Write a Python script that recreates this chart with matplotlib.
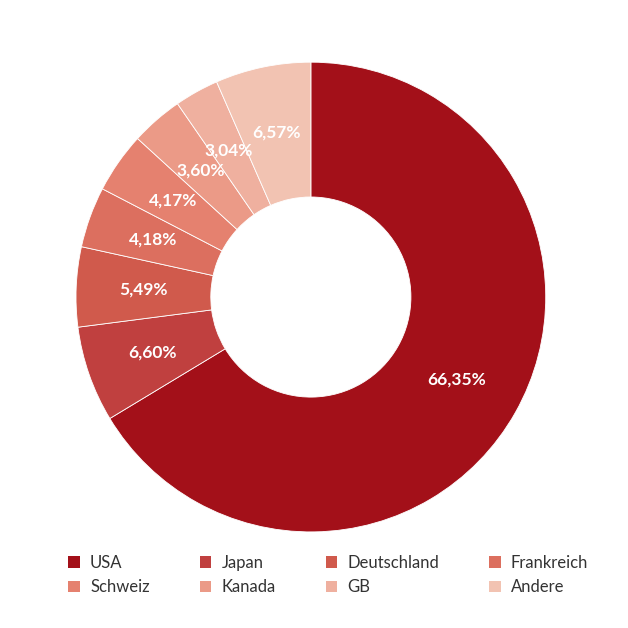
import matplotlib.pyplot as plt
from matplotlib.patches import Patch

countries = ["USA", "Japan", "Deutschland", "Frankreich", "Schweiz", "Kanada", "GB", "Andere"]
shares = [66.35, 6.60, 5.49, 4.18, 4.17, 3.60, 3.04, 6.57]
colors = ["#a31019", "#c0403f", "#d05a4c", "#dc6f5f", "#e5816f", "#eb9a87", "#efb09f", "#f2c3b2"]

plt.rcParams['font.family'] = ['Lato', 'DejaVu Sans']

fig = plt.figure(figsize=(6.28, 6.28), dpi=100)
ax = fig.add_axes([0.121, 0.153, 0.748, 0.748])

wedges, _ = ax.pie(shares, colors=colors, startangle=90, counterclock=False,
                   wedgeprops=dict(width=0.574, edgecolor="white", linewidth=0.6))
import numpy as np
ang = 90.0
for w, s in zip(wedges, shares):
    mid = np.deg2rad(ang - s * 3.6 / 2)
    ang -= s * 3.6
    r = 0.715
    ax.text(r * np.cos(mid), r * np.sin(mid), f"{s:.2f}%".replace(".", ","),
            ha="center", va="center", color="white", fontsize=12.5, fontweight="bold")
ax.set_xlim(-1, 1)
ax.set_ylim(-1, 1)
ax.set_aspect("equal")

handles = [Patch(facecolor=c, edgecolor="none") for c in colors]
order = [0, 4, 1, 5, 2, 6, 3, 7]
fig.legend([handles[i] for i in order], [countries[i] for i in order], ncol=4,
           loc="upper left", bbox_to_anchor=(0.085, 0.14), frameon=False,
           fontsize=12, handlelength=0.7, handleheight=0.7, handletextpad=0.6,
           columnspacing=3.0, labelspacing=0.5, labelcolor="#333333")

fig.savefig("out.png", dpi=100)
